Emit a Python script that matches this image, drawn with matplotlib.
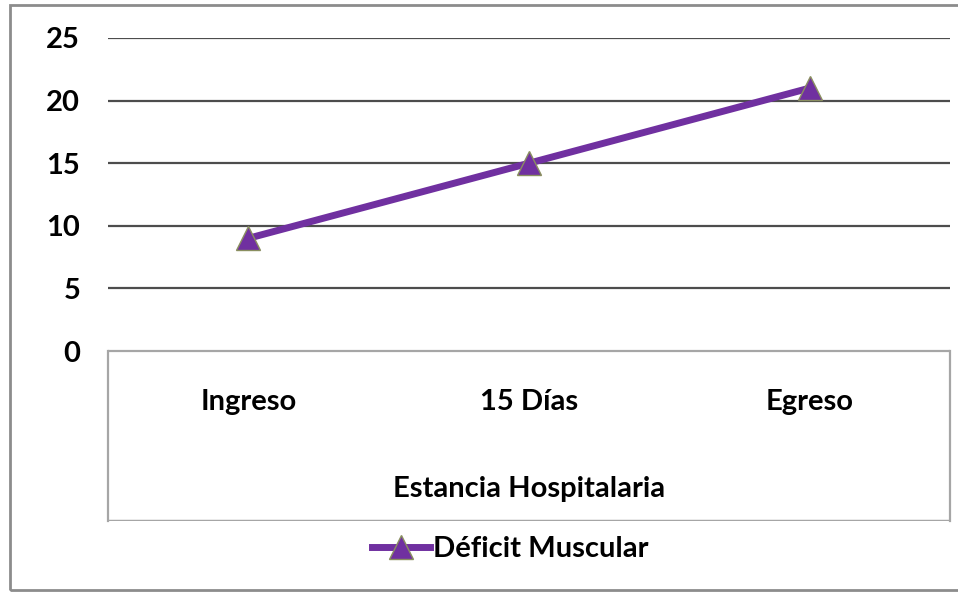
import matplotlib.pyplot as plt
from matplotlib.patches import Rectangle
import matplotlib.transforms as mtransforms

categorias = ["Ingreso", "15 Días", "Egreso"]
deficit_muscular = [9, 15, 21]
y_ticks = [0, 5, 10, 15, 20, 25]

plt.rcParams['font.family'] = ['Lato', 'DejaVu Sans']
FS = 21

W, H = 958, 592
fig = plt.figure(figsize=(W / 100, H / 100), dpi=100)

# plot area in pixels: x 108..950, y 38 (25) .. 351 (0) .. 521 (box bottom)
left, right, top, bottom = 108, 950, 38, 521
ax = fig.add_axes([left / W, 1 - bottom / H, (right - left) / W, (bottom - top) / H])

px_per_unit = (351 - 38) / 25
ymin = -(bottom - 351) / px_per_unit
ax.set_ylim(ymin, 25)
ax.set_xlim(-0.5, 2.5)

x = list(range(len(categorias)))
ax.plot(x, deficit_muscular, color="#7030A0", lw=5, marker="^", ms=17,
        markerfacecolor="#7030A0", markeredgecolor="#8A8F60", markeredgewidth=1,
        label="Déficit Muscular", zorder=3)

for v in y_ticks[1:]:
    ax.axhline(v, color="#4D4D4D", lw=1.6, zorder=1)
ax.axhline(0, color="#A6A6A6", lw=1.6, zorder=1)

ax.set_yticks(y_ticks)
ax.set_yticklabels([str(v) for v in y_ticks], fontsize=FS, fontweight="bold")
ax.tick_params(axis="y", length=0, pad=20)
ax.set_xticks([])

for s in ["top", "bottom"]:
    ax.spines[s].set_visible(False)
for s in ["left", "right"]:
    ax.spines[s].set_bounds(ymin, 0)
    ax.spines[s].set_color("#A6A6A6")
    ax.spines[s].set_linewidth(1.6)
ax.axhline(ymin, color="#A6A6A6", lw=2.5, zorder=1)

# category labels and axis title sit inside the box under the zero line
trans = mtransforms.blended_transform_factory(ax.transData, fig.transFigure)
for xi, cat in zip(x, categorias):
    ax.text(xi, 1 - 402 / H, cat, transform=trans, ha="center", va="center",
            fontsize=FS, fontweight="bold")
ax.text(x[len(x) // 2], 1 - 489 / H, "Estancia Hospitalaria", transform=trans,
        ha="center", va="center", fontsize=FS, fontweight="bold")

fig.legend(loc="center", bbox_to_anchor=(510 / W, 1 - 549 / H), frameon=False,
           prop={"size": FS, "weight": "bold"}, handlelength=2.0, handletextpad=0.1)

fig.add_artist(Rectangle((10 / W, 1 - 590 / H), (W + 5) / W, 585 / H,
                         transform=fig.transFigure, fill=False,
                         edgecolor="#8C8C8C", lw=2))

fig.savefig("out.png", dpi=100)
